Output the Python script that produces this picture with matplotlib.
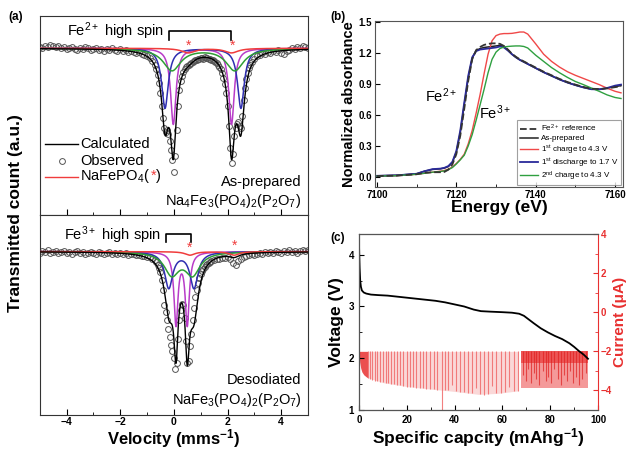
import numpy as np
import matplotlib
matplotlib.use("Agg")
import matplotlib.pyplot as plt
from matplotlib.ticker import MultipleLocator
from matplotlib.offsetbox import TextArea, HPacker, AnnotationBbox

plt.rcParams['font.family'] = ['Liberation Sans', 'DejaVu Sans']
plt.rcParams['mathtext.fontset'] = 'custom'
plt.rcParams['mathtext.rm'] = 'Liberation Sans'
plt.rcParams['mathtext.bf'] = 'Liberation Sans:bold'
plt.rcParams['mathtext.default'] = 'regular'

# ---------------- (a) Mossbauer spectra ----------------
# channel velocities (mm/s): coarse outside, fine around the doublets
vel_top = np.round(np.concatenate([np.arange(-5.0, -0.75, 0.1),
                                   np.arange(-0.70, 2.91, 0.05),
                                   np.arange(3.0, 5.01, 0.1)]), 2)
vel_bot = np.round(np.concatenate([np.arange(-5.0, -0.75, 0.1),
                                   np.arange(-0.70, 1.41, 0.05),
                                   np.arange(1.5, 5.01, 0.1)]), 2)

# observed absorption (1 - transmission)
obs_top = [-.01, .00, -.02, -.01, -.03, -.02, -.01, -.02, .00, -.01,
           .01, .00, -.01, .01, .02, .00, .01, -.01, .00, .02,
           .01, .00, .02, .01, .03, .01, .02, .00, .02, .03,
           .01, .03, .02, .04, .03, .04, .05, .04, .06, .07,
           .08, .10, .13,
           .17, .21, .27, .35, .45, .58, .70, .80, .84, .82, .86, .93, 1.02, 1.12, 1.24,
           1.08, .82, .58, .42, .33, .28, .24, .21, .19, .18, .17, .16, .15, .14, .13,
           .12, .12, .11, .11, .10,
           .10, .11, .09, .10, .10, .11, .11, .12, .12, .13, .14, .15, .17, .19, .21,
           .25, .30, .36, .45, .58,
           .78, 1.00, 1.15, 1.06, .88, .80, .76, .74, .78, .80, .68, .52, .40, .31, .25,
           .20, .17, .14,
           .11, .08, .07, .05, .06, .04, .05, .03, .04, .02,
           .05, .06, .03, .02, .00, .01, -.01, .00, -.02, -.01, .00]
obs_bot = [.01, -.01, .00, -.02, .01, .00, -.01, .01, .00, -.01,
           .01, .00, .02, .00, -.01, .01, .00, .02, .01, .00,
           .01, .02, .00, .01, .02, .01, .00, .02, .01, .02,
           .01, .02, .01, .03, .02, .02, .03, .03, .04, .04,
           .05, .05, .07,
           .08, .10, .13, .16, .20, .28, .38, .53, .60, .68, .77, .86, .94, 1.00, 1.07,
           1.18, 1.12, .88, .68, .58, .52, .53, .66, .90, 1.12, 1.10, .95, .82, .68, .56,
           .45, .38, .31, .26, .22,
           .19, .17, .15, .13, .12, .11, .10, .09,
           .08, .07, .07, .06, .06, .05, .07, .11, .13, .09,
           .07, .05, .04, .03, .02, .03, .02, .01, .02, .00,
           .01, .00, .01, -.01, .00, .01, -.01, .00, -.02, .00,
           -.01, .01, -.01, -.02, -.01, -.02]

# fitted Lorentzian doublets: line centres (mm/s), depth and half width
top_mag = [-0.02, 2.15]
top_blue = [-0.33, 2.50]
top_green = [-0.07, 2.27]
top_red = [0.54, 2.15]
top_depth = [0.76, 0.60, 0.22, 0.045]
top_hw = [0.12, 0.15, 0.40, 0.30]

bot_mag = [0.08, 0.50]
bot_blue = [-0.19, 0.75]
bot_green = [-0.08, 0.70]
bot_red = [0.60, 2.25]
bot_depth = [0.72, 0.36, 0.22, 0.035]
bot_hw = [0.09, 0.18, 0.33, 0.22]

comp_colors = ['#b83cc8', '#2e2eb0', '#2f9e35', '#f03c3c']

# ---------------- (b) XANES ----------------
energy = [7100, 7105, 7110, 7112, 7114, 7116, 7117, 7118, 7119, 7120,
          7121, 7122, 7123, 7124, 7125, 7126, 7127, 7128, 7129, 7130,
          7131, 7132, 7133, 7134, 7135, 7136, 7137, 7138, 7140, 7142,
          7144, 7146, 7148, 7150, 7152, 7154, 7156, 7158, 7160, 7161.5]
fe2_ref = [.008, .012, .025, .040, .045, .045, .048, .07, .12, .22,
           .40, .66, .93, 1.14, 1.23, 1.26, 1.28, 1.29, 1.295, 1.295,
           1.29, 1.27, 1.235, 1.195, 1.165, 1.14, 1.12, 1.10, 1.06, 1.02,
           .985, .95, .92, .895, .872, .855, .852, .858, .87, .88]
as_prepared = [.010, .015, .030, .055, .072, .078, .085, .10, .14, .24,
               .43, .70, .96, 1.15, 1.225, 1.245, 1.255, 1.26, 1.265, 1.27,
               1.275, 1.265, 1.23, 1.19, 1.16, 1.135, 1.115, 1.095, 1.055, 1.015,
               .98, .945, .915, .89, .868, .852, .85, .86, .875, .885]
charge1 = [.008, .012, .025, .035, .045, .055, .062, .075, .095, .13,
           .17, .22, .32, .45, .62, .80, 1.00, 1.19, 1.32, 1.37,
           1.385, 1.39, 1.39, 1.392, 1.398, 1.405, 1.405, 1.385, 1.29, 1.19,
           1.12, 1.065, 1.02, .985, .955, .925, .895, .86, .83, .815]
discharge1 = [.010, .015, .030, .055, .075, .080, .088, .105, .145, .25,
              .45, .72, .98, 1.16, 1.22, 1.235, 1.24, 1.245, 1.25, 1.255,
              1.265, 1.255, 1.225, 1.19, 1.16, 1.135, 1.115, 1.095, 1.055, 1.015,
              .98, .945, .915, .89, .868, .85, .848, .862, .885, .895]
charge2 = [.008, .012, .025, .035, .045, .052, .058, .07, .09, .125,
           .165, .21, .30, .41, .55, .70, .85, 1.01, 1.14, 1.21,
           1.245, 1.26, 1.265, 1.268, 1.27, 1.27, 1.265, 1.25, 1.18, 1.12,
           1.06, 1.01, .965, .925, .895, .862, .83, .795, .77, .76]

# ---------------- (c) voltage / current ----------------
cap = [0.0, 0.1, 0.25, 0.5, 0.8, 1.2, 2.0, 3.0, 5.0, 8, 12, 16, 20, 24, 28, 32,
       36, 40, 44, 48, 51, 55, 60, 64, 67, 69, 71, 73, 76, 79, 82, 85, 88, 90,
       92, 94, 95.8]
voltage = [4.20, 4.0, 3.75, 3.50, 3.38, 3.31, 3.27, 3.25, 3.23, 3.22, 3.21, 3.19,
           3.17, 3.15, 3.13, 3.11, 3.08, 3.04, 3.00, 2.94, 2.91, 2.90, 2.89, 2.88,
           2.86, 2.82, 2.75, 2.68, 2.58, 2.50, 2.43, 2.37, 2.29, 2.22, 2.14, 2.07, 1.99]
pulse_cap = [3.6, 4.6, 5.6, 6.6, 7.7, 8.8, 9.9, 11.1, 12.3, 13.5, 14.7, 16.0,
             17.3, 18.6, 19.9, 21.2, 22.6, 24.0, 25.4, 26.8, 28.2, 29.7, 31.2, 32.7,
             34.6, 35.9, 37.4, 39.0, 40.6, 42.2, 43.8, 45.4, 47.1, 48.8, 50.5, 52.2,
             53.9, 55.7, 57.5, 59.3, 61.1, 62.9, 64.7, 66.5]
pulse_low = [-3.35, -3.40, -3.45, -3.50, -3.52, -3.55, -3.58, -3.62, -3.64, -3.66,
             -3.68, -3.72, -3.74, -3.76, -3.80, -3.82, -3.84, -3.86, -3.88, -3.90,
             -3.92, -3.94, -3.95, -3.97, -5.0, -3.98, -4.00, -3.70, -4.05, -4.07,
             -4.10, -4.12, -4.15, -3.85, -4.20, -4.22, -4.20, -3.75, -4.15, -4.12,
             -4.10, -3.80, -4.05, -4.02]
env_cap = [3.6, 10, 20, 30, 40, 50, 58, 66.5]
env_low = [-3.35, -3.6, -3.8, -3.93, -4.05, -4.2, -4.15, -4.02]
start_cap = [0.0, 0.3, 0.7, 1.2, 2.0, 3.0, 3.6]
start_low = [-2.0, -2.55, -2.85, -3.05, -3.2, -3.3, -3.35]
dense_cap = [68.5, 69.8, 70.6, 71.9, 73.2, 74.0, 75.5, 76.8, 78.1, 79.0, 80.4,
             81.7, 83.1, 84.5, 85.6, 87.0, 88.3, 89.6, 90.9, 92.2, 93.5, 94.8]
dense_low = [-3.2, -3.5, -2.9, -3.6, -3.1, -3.4, -3.7, -3.0, -3.5, -3.3, -3.6,
             -2.9, -3.4, -3.7, -3.2, -3.5, -3.0, -3.6, -3.3, -3.7, -3.4, -3.1]
dense_span = [67.8, 95.6]
current_top = -2.0
dense_bottom = -3.85


def lorentz(v, centres, depth, hw):
    return sum(depth / (1 + ((v - c) / hw) ** 2) for c in centres)


fig = plt.figure(figsize=(6.26, 4.51), dpi=100)
ax_t = fig.add_axes([0.0634, 0.5233, 0.4286, 0.4413])
ax_b = fig.add_axes([0.0634, 0.0790, 0.4286, 0.4443])
ax_x = fig.add_axes([0.5990, 0.5850, 0.3962, 0.3680])
ax_v = fig.add_axes([0.5735, 0.0909, 0.3818, 0.3902])

vfine = np.linspace(-5, 5, 2001)
for ax, vel, obs, groups, depths, widths, ylim in [
        (ax_t, vel_top, obs_top, [top_mag, top_blue, top_green, top_red],
         top_depth, top_hw, (-0.667, 1.323)),
        (ax_b, vel_bot, obs_bot, [bot_mag, bot_blue, bot_green, bot_red],
         bot_depth, bot_hw, (-0.64, 1.367))]:
    ax.plot(vel, 1 - np.array(obs), 'o', ms=4.2, mfc='none', mec='#555555', mew=0.7, zorder=2)
    total = np.zeros_like(vfine)
    for cents, d, w, col in zip(groups, depths, widths, comp_colors):
        absorb = lorentz(vfine, cents, d, w)
        total += absorb
        ax.plot(vfine, 1 - absorb, color=col, lw=1.1, zorder=3)
    ax.plot(vfine, 1 - total, color='black', lw=1.0, zorder=4)
    ax.set_xlim(-5, 5)
    ax.set_ylim(*ylim)
    ax.set_yticks([])
    ax.xaxis.set_major_locator(MultipleLocator(2))
    ax.xaxis.set_minor_locator(MultipleLocator(1))
    ax.tick_params(axis='x', which='both', direction='in', labelsize=7.5, pad=1.5)
    ax.tick_params(axis='x', which='major', length=4)
    ax.tick_params(axis='x', which='minor', length=2.5)
    for sp in ax.spines.values():
        sp.set_color('#333333')

ax_t.tick_params(axis='x', labelbottom=False)
for lbl in ax_b.get_xticklabels():
    lbl.set_fontweight('bold')
ax_b.set_xlabel(r'Velocity (mms$^{\mathbf{-1}}$)', fontsize=12, fontweight='bold', labelpad=0)
fig.text(0.024, 0.528, 'Transmitted count (a.u.)', rotation=90, fontsize=12.5,
         fontweight='bold', ha='center', va='center')

# top annotations
ax_t.text(-4.0, 1.17, r'Fe$^{2+}$ high spin', fontsize=10.5, va='center')
ax_t.plot([-0.18, -0.18, 2.13, 2.13], [1.08, 1.17, 1.17, 1.08], color='black', lw=1.2)
for x in [0.56, 2.2]:
    ax_t.text(x, 1.02, '*', color='#f03c3c', fontsize=10, ha='center', va='center')
ax_t.text(0.975, 0.165, 'As-prepared', transform=ax_t.transAxes, fontsize=10.5, ha='right', va='center')
ax_t.text(0.975, 0.07, r'Na$_4$Fe$_3$(PO$_4$)$_2$(P$_2$O$_7$)', transform=ax_t.transAxes,
          fontsize=10.5, ha='right', va='center')
# legend drawn by hand
ax_t.plot([0.02, 0.143], [0.357, 0.357], transform=ax_t.transAxes, color='black', lw=1)
ax_t.plot([0.083], [0.271], 'o', transform=ax_t.transAxes, ms=4.2, mfc='none', mec='#555555', mew=0.7)
ax_t.plot([0.02, 0.143], [0.191, 0.191], transform=ax_t.transAxes, color='#f03c3c', lw=1)
ax_t.text(0.152, 0.357, 'Calculated', transform=ax_t.transAxes, fontsize=10.5, va='center')
ax_t.text(0.152, 0.271, 'Observed', transform=ax_t.transAxes, fontsize=10.5, va='center')
pack = HPacker(children=[TextArea(r'NaFePO$_4$(', textprops=dict(fontsize=10.5)),
                         TextArea('*', textprops=dict(fontsize=10.5, color='#f03c3c')),
                         TextArea(')', textprops=dict(fontsize=10.5))],
               align='baseline', pad=0, sep=0)
ax_t.add_artist(AnnotationBbox(pack, (0.152, 0.191), xycoords='axes fraction',
                               box_alignment=(0, 0.45), frameon=False, pad=0))

# bottom annotations
ax_b.text(-4.1, 1.165, r'Fe$^{3+}$ high spin', fontsize=10.5, va='center')
ax_b.plot([-0.31, -0.31, 0.635, 0.635], [1.10, 1.177, 1.177, 1.10], color='black', lw=1.2)
for x, y in [(0.6, 1.04), (2.25, 1.06)]:
    ax_b.text(x, y, '*', color='#f03c3c', fontsize=10, ha='center', va='center')
ax_b.text(0.975, 0.175, 'Desodiated', transform=ax_b.transAxes, fontsize=10.5, ha='right', va='center')
ax_b.text(0.975, 0.075, r'NaFe$_3$(PO$_4$)$_2$(P$_2$O$_7$)', transform=ax_b.transAxes,
          fontsize=10.5, ha='right', va='center')

# ---------------- panel (b) ----------------
ax_x.plot(energy, fe2_ref, '--', color='#333333', lw=1.3, label=r'Fe$^{2+}$ reference', zorder=5)
ax_x.plot(energy, as_prepared, color='#222222', lw=1.1, label='As-prepared')
ax_x.plot(energy, charge1, color='#f04848', lw=1.0, label=r'1$^{st}$ charge to 4.3 V')
ax_x.plot(energy, discharge1, color='#2a2a9a', lw=1.3, label=r'1$^{st}$ discharge to 1.7 V')
ax_x.plot(energy, charge2, color='#2fa040', lw=1.0, label=r'2$^{nd}$ charge to 4.3 V')
ax_x.set_xlim(7099.5, 7162)
ax_x.set_ylim(-0.1, 1.51)
ax_x.xaxis.set_major_locator(MultipleLocator(20))
ax_x.xaxis.set_minor_locator(MultipleLocator(10))
ax_x.yaxis.set_major_locator(MultipleLocator(0.3))
ax_x.tick_params(which='both', direction='in', labelsize=7, pad=2)
ax_x.tick_params(which='minor', length=2)
for lbl in ax_x.get_xticklabels() + ax_x.get_yticklabels():
    lbl.set_fontweight('bold')
ax_x.yaxis.set_major_formatter(matplotlib.ticker.FormatStrFormatter('%.1f'))
ax_x.set_xlabel('Energy (eV)', fontsize=12.5, fontweight='bold', labelpad=0)
ax_x.set_ylabel('Normalized absorbance', fontsize=10.5, fontweight='bold', labelpad=2)
ax_x.text(7112, 0.79, r'Fe$^{2+}$', fontsize=10.5, va='center')
ax_x.text(7125.6, 0.62, r'Fe$^{3+}$', fontsize=10.5, va='center')
leg = ax_x.legend(loc='lower right', fontsize=5.8, handlelength=2.2, labelspacing=0.1,
                  borderaxespad=0.25, fancybox=False, borderpad=0.3, handletextpad=0.4)
leg.get_frame().set_edgecolor('#888888')
leg.get_frame().set_linewidth(0.8)
for sp in ax_x.spines.values():
    sp.set_color('#555555')

# ---------------- panel (c) ----------------
ax_i = ax_v.twinx()
ax_i.fill_between(env_cap, env_low, current_top, color='#f6b8b8', alpha=0.55, lw=0)
ax_i.vlines(pulse_cap, pulse_low, current_top, color='#f06a6a', lw=0.8, alpha=0.85)
ax_i.fill_between(start_cap, start_low, current_top, color='#e83030', alpha=0.85, lw=0)
ax_i.fill_between(dense_span, dense_bottom, current_top, color='#f28080', alpha=0.8, lw=0)
ax_i.vlines(dense_cap, dense_low, current_top, color='#e02020', lw=0.8, alpha=0.7)
ax_i.fill_between(dense_span, -2.6, current_top, color='#e82828', alpha=0.6, lw=0)
ax_i.set_ylim(-5, 4)
ax_i.yaxis.set_major_locator(MultipleLocator(2))
ax_i.yaxis.set_minor_locator(MultipleLocator(1))
ax_i.tick_params(which='both', direction='in', colors='#e83030', labelsize=7, pad=2)
ax_i.tick_params(which='minor', length=2)
for lbl in ax_i.get_yticklabels():
    lbl.set_fontweight('bold')
ax_i.set_ylabel(u'Current (\u03bcA)', fontsize=11, fontweight='bold', color='#e83030', labelpad=1)
ax_i.spines['right'].set_color('#e83030')

ax_v.set_zorder(ax_i.get_zorder() + 1)
ax_v.patch.set_visible(False)
ax_v.plot(cap, voltage, color='black', lw=1.3)
ax_v.set_xlim(0, 100)
ax_v.set_ylim(1, 4.4)
ax_v.xaxis.set_major_locator(MultipleLocator(20))
ax_v.xaxis.set_minor_locator(MultipleLocator(10))
ax_v.yaxis.set_major_locator(MultipleLocator(1))
ax_v.yaxis.set_minor_locator(MultipleLocator(0.5))
ax_v.tick_params(which='both', direction='in', labelsize=7)
ax_v.tick_params(which='minor', length=2)
for lbl in ax_v.get_xticklabels() + ax_v.get_yticklabels():
    lbl.set_fontweight('bold')
ax_v.set_xlabel(r'Specific capcity (mAhg$^{\mathbf{-1}}$)', fontsize=12.5, fontweight='bold', labelpad=1)
ax_v.set_ylabel('Voltage (V)', fontsize=12.5, fontweight='bold', labelpad=3)
for name in ['left', 'top', 'bottom']:
    ax_v.spines[name].set_color('#555555')
ax_i.spines['right'].set_visible(False)
ax_v.spines['right'].set_color('#e83030')

fig.text(0.013, 0.962, '(a)', fontsize=8.5, fontweight='bold', va='center')
fig.text(0.527, 0.962, '(b)', fontsize=8.5, fontweight='bold', va='center')
fig.text(0.527, 0.472, '(c)', fontsize=8.5, fontweight='bold', va='center')

fig.savefig('out.png', dpi=100)
